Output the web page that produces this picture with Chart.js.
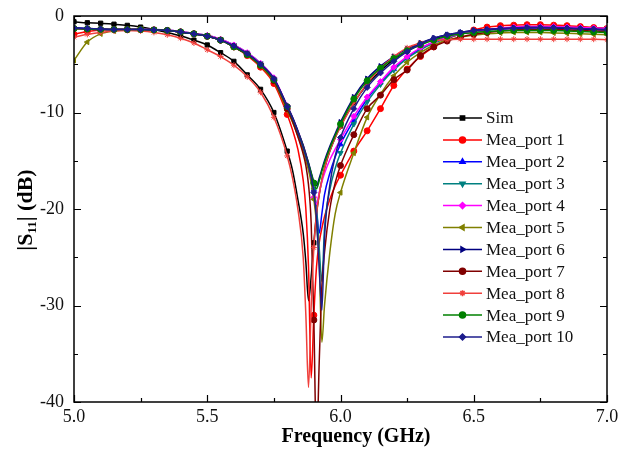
<!DOCTYPE html>
<html lang="en">
<head>
    <meta charset="UTF-8">
    <title>|S11| vs Frequency</title>
    <script src="https://cdn.jsdelivr.net/npm/chart.js"></script>
    <style>
        body { margin: 0; background: #fff; }
        #wrap { width: 619px; height: 453px; }
    </style>
</head>
<body>
<div id="wrap"><canvas id="myChart" width="619" height="453"></canvas></div>
<script>
    // frequency grid (GHz), denser around the resonance
    const freq = [5.00,5.05,5.10,5.15,5.20,5.25,5.30,5.35,5.40,5.45,5.50,5.55,5.60,5.65,5.70,5.75,5.80,
        5.82,5.84,5.86,5.87,5.88,5.89,5.90,5.91,5.92,5.93,5.94,5.96,5.98,6.00,
        6.05,6.10,6.15,6.20,6.25,6.30,6.35,6.40,6.45,6.50,6.55,6.60,6.65,6.70,6.75,6.80,6.85,6.90,6.95,7.00];

    // |S11| in dB
    const sim = [-0.6,-0.7,-0.75,-0.85,-0.97,-1.15,-1.4,-1.7,-2.05,-2.5,-3.0,-3.8,-4.7,-6.1,-7.6,-10.0,-14.0,
        -16.0,-19.0,-22.5,-25.5,-29.5,-27.0,-23.5,-20.5,-18.5,-17.0,-15.8,-14.0,-12.6,-11.4,
        -9.0,-7.1,-5.7,-4.5,-3.6,-2.9,-2.4,-2.0,-1.75,-1.55,-1.4,-1.3,-1.25,-1.2,-1.15,-1.15,-1.2,-1.2,-1.25,-1.3];
    const port1 = [-1.9,-1.6,-1.45,-1.4,-1.4,-1.4,-1.45,-1.5,-1.65,-1.85,-2.1,-2.5,-3.2,-4.1,-5.3,-7.0,-10.2,
        -11.8,-13.8,-17.0,-20.0,-26.0,-37.5,-31.0,-26.0,-23.5,-22.0,-20.8,-19.0,-17.6,-16.5,
        -14.0,-11.9,-9.6,-7.2,-5.5,-4.2,-3.2,-2.4,-1.85,-1.45,-1.15,-1.0,-0.95,-0.9,-0.9,-0.95,-1.0,-1.1,-1.2,-1.3];
    const port2 = [-1.2,-1.3,-1.35,-1.4,-1.4,-1.4,-1.45,-1.5,-1.65,-1.85,-2.1,-2.5,-3.2,-4.0,-5.1,-6.7,-9.5,
        -10.7,-12.1,-13.7,-14.6,-15.5,-16.6,-18.0,-20.0,-22.5,-20.5,-18.5,-16.3,-14.6,-13.3,
        -10.8,-8.6,-6.9,-5.5,-4.3,-3.4,-2.7,-2.2,-1.85,-1.6,-1.45,-1.35,-1.3,-1.25,-1.25,-1.25,-1.3,-1.35,-1.4,-1.45];
    const port3 = [-1.3,-1.35,-1.4,-1.4,-1.4,-1.4,-1.4,-1.45,-1.6,-1.8,-2.0,-2.4,-3.0,-3.8,-4.9,-6.5,-9.4,
        -10.6,-12.0,-13.6,-14.5,-15.5,-16.6,-18.0,-20.0,-24.0,-27.5,-22.0,-18.0,-15.8,-14.2,
        -11.2,-8.9,-7.1,-5.6,-4.4,-3.5,-2.8,-2.3,-1.9,-1.65,-1.45,-1.3,-1.2,-1.15,-1.15,-1.15,-1.2,-1.25,-1.3,-1.35];
    const port4 = [-1.3,-1.35,-1.4,-1.4,-1.4,-1.4,-1.4,-1.45,-1.6,-1.8,-2.0,-2.4,-3.0,-3.8,-4.9,-6.4,-9.3,
        -10.5,-11.9,-13.4,-14.3,-15.3,-16.6,-18.8,-19.5,-18.3,-17.2,-16.3,-14.9,-13.8,-12.8,
        -10.4,-8.4,-6.8,-5.3,-4.2,-3.3,-2.7,-2.2,-1.85,-1.6,-1.4,-1.25,-1.15,-1.1,-1.1,-1.1,-1.15,-1.2,-1.25,-1.3];
    const port5 = [-4.6,-2.7,-1.85,-1.55,-1.45,-1.45,-1.45,-1.5,-1.65,-1.85,-2.1,-2.5,-3.2,-4.0,-5.2,-6.8,-9.8,
        -11.0,-12.4,-14.0,-15.0,-16.0,-17.3,-19.0,-21.5,-25.5,-33.8,-30.0,-24.5,-20.5,-18.3,
        -14.2,-10.5,-8.1,-6.2,-4.8,-3.8,-3.0,-2.5,-2.2,-2.0,-1.85,-1.75,-1.7,-1.7,-1.7,-1.75,-1.8,-1.85,-1.9,-1.95];
    const port6 = [-1.25,-1.3,-1.35,-1.4,-1.4,-1.4,-1.45,-1.5,-1.65,-1.85,-2.1,-2.5,-3.1,-3.9,-5.0,-6.5,-9.3,
        -10.5,-11.9,-13.4,-14.3,-15.2,-16.2,-17.2,-17.6,-16.8,-15.9,-15.0,-13.5,-12.2,-11.0,
        -8.4,-6.5,-5.2,-4.2,-3.4,-2.8,-2.3,-1.95,-1.7,-1.5,-1.4,-1.3,-1.25,-1.2,-1.2,-1.25,-1.3,-1.35,-1.4,-1.45];
    const port7 = [-1.3,-1.35,-1.4,-1.4,-1.4,-1.4,-1.45,-1.5,-1.65,-1.85,-2.1,-2.5,-3.2,-4.0,-5.1,-6.7,-9.6,
        -10.9,-12.5,-14.3,-15.5,-17.5,-21.5,-31.5,-45.0,-36.0,-28.0,-24.5,-20.0,-17.3,-15.5,
        -12.3,-9.6,-8.2,-6.6,-5.6,-4.1,-3.2,-2.6,-2.2,-1.9,-1.7,-1.55,-1.45,-1.4,-1.4,-1.4,-1.45,-1.5,-1.55,-1.6];
    const port8 = [-2.2,-1.9,-1.7,-1.55,-1.5,-1.55,-1.7,-1.95,-2.3,-2.8,-3.5,-4.2,-5.1,-6.3,-7.9,-10.5,-14.5,
        -16.8,-20.0,-25.0,-31.0,-38.5,-30.0,-24.0,-20.5,-18.5,-17.0,-15.8,-14.0,-12.6,-11.5,
        -9.0,-7.0,-5.4,-4.2,-3.3,-2.8,-2.55,-2.45,-2.4,-2.4,-2.4,-2.4,-2.4,-2.4,-2.4,-2.4,-2.4,-2.4,-2.4,-2.45];
    const port9 = [-1.3,-1.35,-1.4,-1.4,-1.4,-1.4,-1.45,-1.5,-1.65,-1.85,-2.1,-2.5,-3.2,-4.0,-5.1,-6.6,-9.4,
        -10.6,-12.0,-13.5,-14.4,-15.3,-16.3,-17.3,-17.9,-17.1,-16.1,-15.2,-13.7,-12.4,-11.2,
        -8.6,-6.7,-5.4,-4.4,-3.6,-3.0,-2.5,-2.1,-1.85,-1.7,-1.6,-1.55,-1.5,-1.5,-1.5,-1.5,-1.55,-1.6,-1.65,-1.7];
    const port10 = [-1.25,-1.3,-1.35,-1.4,-1.4,-1.4,-1.45,-1.5,-1.65,-1.85,-2.1,-2.5,-3.1,-3.9,-5.0,-6.5,-9.4,
        -10.6,-12.0,-13.6,-14.5,-15.5,-16.7,-18.3,-21.0,-26.0,-30.5,-23.0,-17.5,-14.5,-12.6,
        -9.6,-7.4,-5.9,-4.7,-3.7,-2.9,-2.3,-1.95,-1.7,-1.5,-1.4,-1.3,-1.25,-1.2,-1.2,-1.2,-1.25,-1.3,-1.35,-1.4];

    const seriesNames = ['Sim','Mea_port 1','Mea_port 2','Mea_port 3','Mea_port 4','Mea_port 5',
        'Mea_port 6','Mea_port 7','Mea_port 8','Mea_port 9','Mea_port 10'];
    const seriesValues = [sim, port1, port2, port3, port4, port5, port6, port7, port8, port9, port10];
    const seriesColors = ['#000000','#ff0000','#0000ff','#008080','#ff00ff','#808000',
        '#000080','#800000','#f0403c','#008000','#1c1c8c'];
    const markerStyles = ['rect','circle','triangle','triangle','rectRot','triangle',
        'triangle','circle','star','circle','rectRot'];
    const markerRotation = [0,0,0,180,0,-90,90,0,0,0,0];

    const serif = '"Liberation Serif", "Times New Roman", serif';

    // markers only every 0.05 GHz, like the original plot
    function markerRadius(c) {
        const f = freq[c.dataIndex];
        return Math.abs(f * 20 - Math.round(f * 20)) < 1e-6 ? 3 : 0;
    }

    const datasets = seriesValues.map((vals, k) => ({
        label: seriesNames[k],
        data: freq.map((f, i) => ({ x: f, y: vals[i] })),
        borderColor: seriesColors[k],
        backgroundColor: seriesColors[k],
        borderWidth: 1.5,
        pointStyle: markerStyles[k],
        rotation: markerRotation[k],
        pointRadius: markerRadius,
        pointBorderWidth: 1,
        cubicInterpolationMode: 'monotone',
        order: seriesValues.length - k
    }));

    // frame with inward ticks, titles and the in-plot legend
    const decorations = {
        id: 'decorations',
        afterDraw(chart) {
            const { ctx, chartArea: a, scales } = chart;
            const xs = scales.x, ys = scales.y;
            ctx.save();
            ctx.strokeStyle = '#000';
            ctx.lineWidth = 1.5;
            ctx.strokeRect(a.left, a.top, a.right - a.left, a.bottom - a.top);

            ctx.lineWidth = 1.2;
            ctx.beginPath();
            for (let v = 5.0; v <= 7.0001; v += 0.25) {
                const px = Math.round(xs.getPixelForValue(v)) + 0.5;
                const len = Math.abs(v * 2 - Math.round(v * 2)) < 1e-6 ? 7 : 4;
                ctx.moveTo(px, a.bottom); ctx.lineTo(px, a.bottom - len);
                ctx.moveTo(px, a.top); ctx.lineTo(px, a.top + len);
            }
            for (let v = -40; v <= 0; v += 5) {
                const py = Math.round(ys.getPixelForValue(v)) + 0.5;
                const len = v % 10 === 0 ? 7 : 4;
                ctx.moveTo(a.left, py); ctx.lineTo(a.left + len, py);
                ctx.moveTo(a.right, py); ctx.lineTo(a.right - len, py);
            }
            ctx.stroke();

            // x title
            ctx.fillStyle = '#000';
            ctx.font = 'bold 20px ' + serif;
            ctx.textAlign = 'center';
            ctx.textBaseline = 'middle';
            ctx.fillText('Frequency (GHz)', 356, 437);

            // y title with subscript
            ctx.save();
            ctx.translate(25, 210);
            ctx.rotate(-Math.PI / 2);
            ctx.textAlign = 'left';
            ctx.textBaseline = 'alphabetic';
            const big = 'bold 22px ' + serif, small = 'bold 13px ' + serif;
            ctx.font = big; const w1 = ctx.measureText('|S').width;
            ctx.font = small; const w2 = ctx.measureText('11').width;
            ctx.font = big; const w3 = ctx.measureText('| (dB)').width;
            let x0 = -(w1 + w2 + w3) / 2;
            ctx.fillText('|S', x0, 7);
            ctx.font = small; ctx.fillText('11', x0 + w1, 11);
            ctx.font = big; ctx.fillText('| (dB)', x0 + w1 + w2, 7);
            ctx.restore();

            // legend
            ctx.font = '17px ' + serif;
            ctx.textAlign = 'left';
            ctx.textBaseline = 'middle';
            seriesNames.forEach((name, k) => {
                const y = 118 + k * 21.9;
                ctx.strokeStyle = seriesColors[k];
                ctx.fillStyle = seriesColors[k];
                ctx.lineWidth = 1.5;
                ctx.beginPath(); ctx.moveTo(443, y); ctx.lineTo(482, y); ctx.stroke();
                if (Chart.helpers && Chart.helpers.drawPoint) {
                    Chart.helpers.drawPoint(ctx, { pointStyle: markerStyles[k], rotation: markerRotation[k], radius: 3, borderWidth: 1 }, 462.5, y);
                }
                ctx.fillStyle = '#111';
                ctx.fillText(name, 486, y + 1);
            });
            ctx.restore();
        }
    };

    const chart = new Chart(document.getElementById('myChart'), {
        type: 'line',
        data: { datasets },
        options: {
            responsive: false,
            animation: false,
            layout: { padding: { top: 16, right: 12, left: 0, bottom: 0 } },
            plugins: { legend: { display: false }, tooltip: { enabled: false } },
            scales: {
                x: {
                    type: 'linear', min: 5, max: 7,
                    grid: { display: false, drawTicks: false, tickLength: 0 },
                    border: { display: false },
                    ticks: { stepSize: 0.5, padding: 4, color: '#111', font: { family: serif, size: 18 },
                        callback: v => Number(v).toFixed(1) },
                    afterFit: s => { s.height = 51; s.paddingLeft = 0; s.paddingRight = 0; }
                },
                y: {
                    min: -40, max: 0,
                    grid: { display: false, drawTicks: false, tickLength: 0 },
                    border: { display: false },
                    ticks: { stepSize: 10, padding: 10, color: '#111', font: { family: serif, size: 18 } },
                    afterFit: s => { s.width = 74; s.paddingTop = 0; s.paddingBottom = 0; }
                }
            }
        },
        plugins: [decorations]
    });
</script>
</body>
</html>
